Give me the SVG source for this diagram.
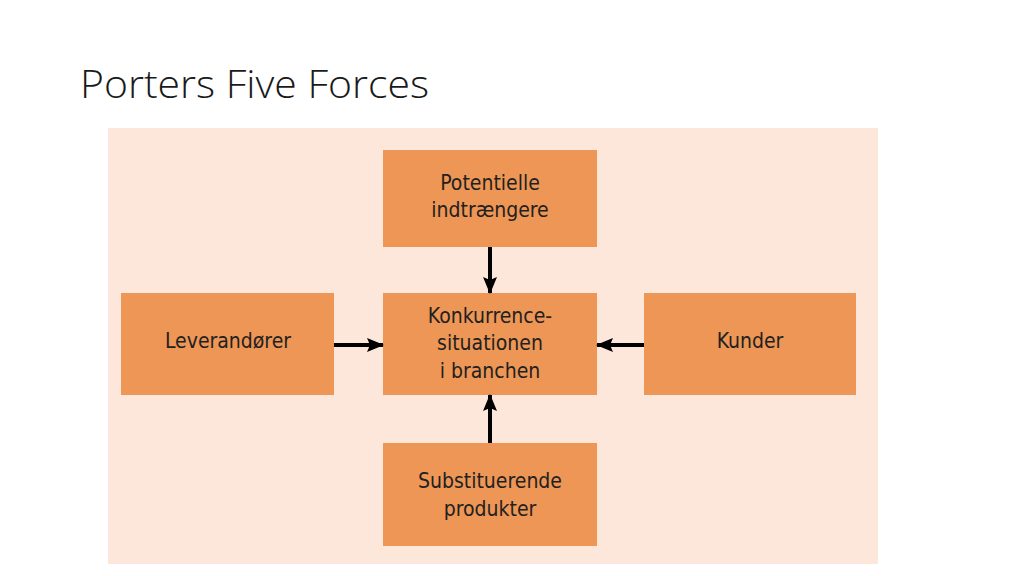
<svg xmlns="http://www.w3.org/2000/svg" width="1024" height="576" viewBox="0 0 1024 576">
<style>
.box{fill:#ED9655;}
.lbl{font-family:"Liberation Sans Narrow","DejaVu Sans Condensed","Liberation Sans",sans-serif;font-stretch:condensed;font-size:21px;fill:#231F20;text-anchor:middle;}
.title{font-family:"Open Sans","Liberation Sans",sans-serif;font-weight:300;font-size:38px;fill:#1a1a1a;}
.conn{stroke:#000;stroke-width:4;fill:none;}
</style>
<defs>
<marker id="ah" markerUnits="userSpaceOnUse" markerWidth="18" markerHeight="16" refX="16" refY="8" orient="auto" viewBox="0 0 18 16">
<path d="M0,1 L17,8 L0,15 L3,8 Z" fill="#000"/>
</marker>
</defs>
<rect width="1024" height="576" fill="#fff"/>
<text class="title" x="80" y="98" textLength="349" lengthAdjust="spacingAndGlyphs">Porters Five Forces</text>
<rect x="108" y="128" width="770" height="436" fill="#FCE7DA"/>
<g id="potentielle">
<rect class="box" x="383" y="150" width="214" height="97"/>
<text class="lbl" x="490" y="190">Potentielle</text>
<text class="lbl" x="490" y="217">indtrængere</text>
</g>
<g id="konkurrence">
<rect class="box" x="383" y="293" width="214" height="102"/>
<text class="lbl" x="490" y="323">Konkurrence-</text>
<text class="lbl" x="490" y="350">situationen</text>
<text class="lbl" x="490" y="378">i branchen</text>
</g>
<g id="leverandorer">
<rect class="box" x="121" y="293" width="213" height="102"/>
<text class="lbl" x="228" y="348">Leverandører</text>
</g>
<g id="kunder">
<rect class="box" x="644" y="293" width="212" height="102"/>
<text class="lbl" x="750" y="348">Kunder</text>
</g>
<g id="substituerende">
<rect class="box" x="383" y="443" width="214" height="103"/>
<text class="lbl" x="490" y="488">Substituerende</text>
<text class="lbl" x="490" y="516">produkter</text>
</g>
<g id="connectors">
<line class="conn" x1="490" y1="247" x2="490" y2="293" marker-end="url(#ah)"/>
<line class="conn" x1="334" y1="345" x2="383" y2="345" marker-end="url(#ah)"/>
<line class="conn" x1="644" y1="345" x2="597" y2="345" marker-end="url(#ah)"/>
<line class="conn" x1="490" y1="443" x2="490" y2="395" marker-end="url(#ah)"/>
</g>
</svg>
